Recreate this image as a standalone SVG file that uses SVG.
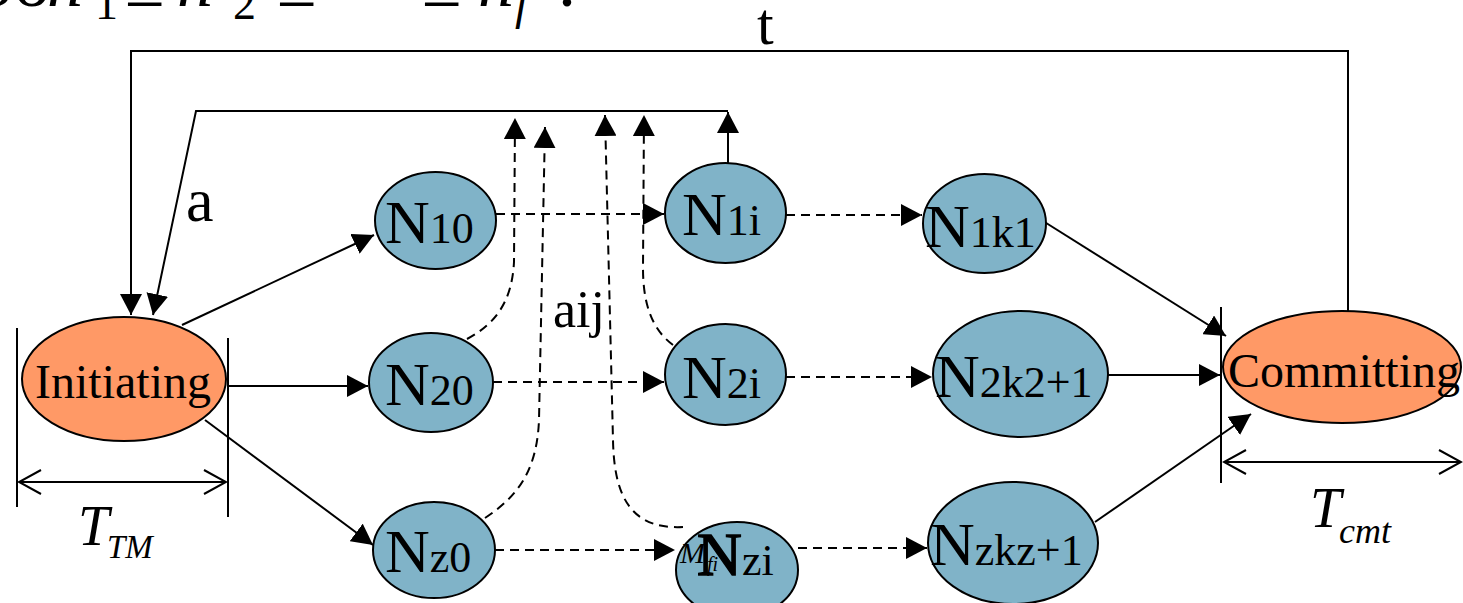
<svg xmlns="http://www.w3.org/2000/svg" width="1463" height="603" viewBox="0 0 1463 603">
  <style>
    text, tspan { font-family: 'Liberation Serif', 'Times New Roman', serif; }
    .it { font-style: italic; }
    .node-o { fill: #FF9966; stroke: #000; stroke-width: 2; }
    .node-b { fill: #80B3C8; stroke: #000; stroke-width: 2; }
    .ln { fill: none; stroke: #000; stroke-width: 2; }
    .dash { fill: none; stroke: #000; stroke-width: 2; stroke-dasharray: 9 6; }
    .lbl { font-size: 62px; }
    .sub { font-size: 44px; }
    .big { font-size: 48px; }
  </style>
  <defs>
    <marker id="ah" markerWidth="21" markerHeight="22" refX="21" refY="11" orient="auto" markerUnits="userSpaceOnUse">
      <path d="M0,0 L21,11 L0,22 z" fill="#000"/>
    </marker>
    <marker id="open" markerWidth="26" markerHeight="28" refX="24" refY="14" orient="auto-start-reverse" markerUnits="userSpaceOnUse">
      <path d="M2,2 L24,14 L2,26" fill="none" stroke="#000" stroke-width="2"/>
    </marker>
  </defs>

  <g font-family="Liberation Serif" fill="#000">
  <!-- formula line running off the top edge -->
  <g id="formula">
    <text x="-26" y="6" font-size="72">So</text>
    <text x="47" y="6" font-size="72" class="it">n</text>
    <text x="95" y="19" font-size="46">1</text>
    <text x="125" y="6" font-size="72">≥</text>
    <text x="177" y="6" font-size="72" class="it">n</text>
    <text x="233" y="19" font-size="46">2</text>
    <text x="277" y="6" font-size="72">≥</text>
    <text x="330" y="-20" font-size="72">⋯</text>
    <text x="422" y="6" font-size="72">≥</text>
    <text x="478" y="6" font-size="72" class="it">n</text>
    <text x="515" y="19" font-size="46" class="it">f</text>
    <text x="558" y="6" font-size="72">.</text>
  </g>

  <!-- connectors -->
  <g id="connectors">
    <!-- outer loop t: Committing back to Initiating -->
    <path class="ln" d="M1348,311 V51 H131 V315" marker-end="url(#ah)"/>
    <!-- inner loop a: N1i back to Initiating -->
    <path class="ln" d="M728,163 V112" marker-end="url(#ah)"/>
    <path class="ln" d="M728,111 H196 L153,315" marker-end="url(#ah)"/>

    <!-- Initiating fan-out -->
    <path class="ln" d="M182,325 L374,235" marker-end="url(#ah)"/>
    <path class="ln" d="M228,386 H368" marker-end="url(#ah)"/>
    <path class="ln" d="M205,420 L373,545" marker-end="url(#ah)"/>

    <!-- dashed chains -->
    <path class="dash" d="M496,214 H664" marker-end="url(#ah)"/>
    <path class="dash" d="M493,382 H664" marker-end="url(#ah)"/>
    <path class="dash" d="M495,550 H675" marker-end="url(#ah)"/>
    <path class="dash" d="M786,215 H922" marker-end="url(#ah)"/>
    <path class="dash" d="M786,377 H932" marker-end="url(#ah)"/>
    <path class="dash" d="M798,548 H927" marker-end="url(#ah)"/>

    <!-- into Committing -->
    <path class="ln" d="M1043,221 L1226,336" marker-end="url(#ah)"/>
    <path class="ln" d="M1108,375 H1220" marker-end="url(#ah)"/>
    <path class="ln" d="M1095,522 L1251,414" marker-end="url(#ah)"/>

    <!-- dashed aij returns -->
    <path class="dash" d="M467,339 C497,323 512,300 514,262 L515,118" marker-end="url(#ah)"/>
    <path class="dash" d="M485,518 C520,495 537,468 539,420 L545,127" marker-end="url(#ah)"/>
    <path class="dash" d="M683,527 C628,530 614,492 613,440 L605,115" marker-end="url(#ah)"/>
    <path class="dash" d="M673,345 C650,328 643,300 643,268 L644,115" marker-end="url(#ah)"/>

    <!-- timing brackets -->
    <path class="ln" d="M17,328 V507"/>
    <path class="ln" d="M228,338 V517"/>
    <path class="ln" d="M19,482 H226" marker-start="url(#open)" marker-end="url(#open)"/>
    <path class="ln" d="M1221,307 V483"/>
    <path class="ln" d="M1224,462 H1461" marker-start="url(#open)" marker-end="url(#open)"/>
  </g>

  <!-- edge labels -->
  <text x="757" y="44" font-size="60">t</text>
  <text x="186" y="221" font-size="62">a</text>
  <text x="553" y="327" font-size="52">aij</text>
  <text x="78" y="545" font-size="56" class="it">T</text>
  <text x="107" y="558" font-size="33" class="it">TM</text>
  <text x="1310" y="527" font-size="56" class="it">T</text>
  <text x="1339" y="543" font-size="36" class="it">cmt</text>

  <!-- nodes -->
  <g id="initiating">
    <ellipse class="node-o" cx="124" cy="379" rx="102" ry="62"/>
    <text x="35" y="398" class="big">Initiating</text>
  </g>
  <g id="committing">
    <ellipse class="node-o" cx="1342" cy="367" rx="119" ry="56"/>
    <text x="1228" y="387" class="big">Committing</text>
  </g>
  <g id="n10">
    <ellipse class="node-b" cx="435.5" cy="220.5" rx="60.5" ry="48.5"/>
    <text x="385" y="243" class="lbl">N<tspan class="sub">10</tspan></text>
  </g>
  <g id="n20">
    <ellipse class="node-b" cx="431" cy="382.5" rx="62" ry="49.5"/>
    <text x="385" y="405" class="lbl">N<tspan class="sub">20</tspan></text>
  </g>
  <g id="nz0">
    <ellipse class="node-b" cx="434" cy="550" rx="61" ry="48"/>
    <text x="385" y="572" class="lbl">N<tspan class="sub">z0</tspan></text>
  </g>
  <g id="n1i">
    <ellipse class="node-b" cx="725.5" cy="213" rx="60.5" ry="50"/>
    <text x="682" y="235" class="lbl">N<tspan class="sub">1i</tspan></text>
  </g>
  <g id="n2i">
    <ellipse class="node-b" cx="725.5" cy="374.5" rx="60.5" ry="50.5"/>
    <text x="682" y="398" class="lbl">N<tspan class="sub">2i</tspan></text>
  </g>
  <g id="nzi">
    <ellipse class="node-b" cx="737" cy="570" rx="61" ry="48"/>
    <text x="680" y="563" font-size="30" class="it">M</text>
    <text x="707" y="571" font-size="20" class="it">fi</text>
    <text x="697" y="575" class="lbl" stroke="#000" stroke-width="1.5">N</text>
    <text x="742" y="575" class="sub">zi</text>
  </g>
  <g id="n1k1">
    <ellipse class="node-b" cx="984.5" cy="223.5" rx="61.5" ry="49.5"/>
    <text x="925" y="247" class="lbl">N<tspan class="sub">1k1</tspan></text>
  </g>
  <g id="n2k2">
    <ellipse class="node-b" cx="1020.5" cy="374" rx="87.5" ry="63"/>
    <text x="935" y="397" class="lbl">N<tspan class="sub">2k2+1</tspan></text>
  </g>
  <g id="nzkz">
    <ellipse class="node-b" cx="1013" cy="543" rx="85" ry="61"/>
    <text x="930" y="565" class="lbl">N<tspan class="sub">zkz+1</tspan></text>
  </g>
  </g>
</svg>
